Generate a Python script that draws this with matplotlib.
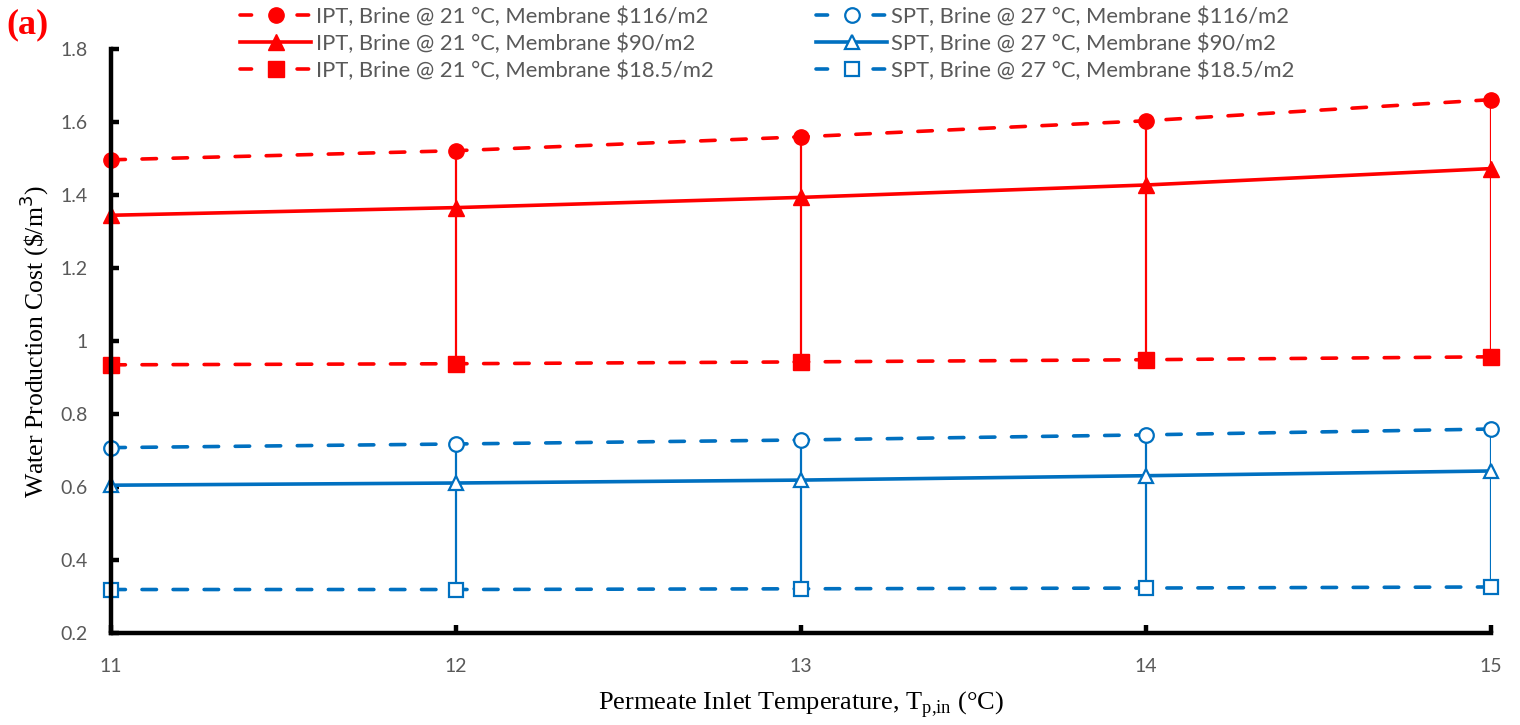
import numpy as np
import matplotlib.pyplot as plt
from matplotlib.lines import Line2D

temps = [11, 12, 13, 14, 15]

ipt_116 = [1.497, 1.522, 1.560, 1.604, 1.662]
ipt_90 = [1.345, 1.366, 1.394, 1.428, 1.473]
ipt_18 = [0.935, 0.938, 0.943, 0.949, 0.957]

spt_116 = [0.708, 0.718, 0.729, 0.743, 0.759]
spt_90 = [0.605, 0.611, 0.619, 0.631, 0.644]
spt_18 = [0.319, 0.319, 0.321, 0.323, 0.326]

labels_ipt = ['IPT, Brine @ 21 °C, Membrane $116/m2',
              'IPT, Brine @ 21 °C, Membrane $90/m2',
              'IPT, Brine @ 21 °C, Membrane $18.5/m2']
labels_spt = ['SPT, Brine @ 27 °C, Membrane $116/m2',
              'SPT, Brine @ 27 °C, Membrane $90/m2',
              'SPT, Brine @ 27 °C, Membrane $18.5/m2']

red = '#ff0000'
blue = '#0070c0'
gray = '#595959'
tick_font = 'Lato'

fig = plt.figure(figsize=(15.2, 7.25), dpi=100)
ax = fig.add_axes([0.073, 0.127, 0.908, 0.805])

# high-low lines
ax.vlines(temps, ipt_18, ipt_116, color=red, lw=1.6, zorder=2)
ax.vlines(temps, spt_18, spt_116, color=blue, lw=1.6, zorder=2)

dash = (0, (4, 4.6))
kw = dict(lw=2.6, ms=11, dash_capstyle='round')
h = []
h.append(ax.plot(temps, ipt_116, color=red, ls=dash, marker='o', **kw)[0])
h.append(ax.plot(temps, ipt_90, color=red, ls='-', marker='^', **kw)[0])
h.append(ax.plot(temps, ipt_18, color=red, ls=dash, marker='s', **kw)[0])
kw = dict(lw=2.6, ms=10.5, mfc='white', mew=1.6, dash_capstyle='round')
h.append(ax.plot(temps, spt_116, color=blue, ls=dash, marker='o', **kw)[0])
h.append(ax.plot(temps, spt_90, color=blue, ls='-', marker='^', **kw)[0])
h.append(ax.plot(temps, spt_18, color=blue, ls=dash, marker='s', **kw)[0])
for l in h:
    l.set_clip_on(False)

# legend handles: dash - marker - dash, like the spreadsheet legend
leg_dash = (0, (3.2, 12.6))
handles = []
for line, lab in zip(h, labels_ipt + labels_spt):
    ls = leg_dash if line.get_linestyle() != '-' else '-'
    handles.append(Line2D([], [], color=line.get_color(), ls=ls, lw=2.6, dash_capstyle='round',
                          marker=line.get_marker(), ms=line.get_markersize(),
                          mfc=line.get_markerfacecolor(), mew=line.get_markeredgewidth(),
                          label=lab))

ax.set_xlim(11, 15)
ax.set_ylim(0.2, 1.8)
ax.set_xticks(temps)
ax.set_yticks([0.2, 0.4, 0.6, 0.8, 1.0, 1.2, 1.4, 1.6, 1.8])
ax.set_yticklabels(['0.2', '0.4', '0.6', '0.8', '1', '1.2', '1.4', '1.6', '1.8'])

for s in ['top', 'right']:
    ax.spines[s].set_visible(False)
for s in ['left', 'bottom']:
    ax.spines[s].set_linewidth(3.2)
    ax.spines[s].set_color('black')
ax.tick_params(direction='in', length=6, width=3.2, color='black',
               labelcolor=gray, labelsize=14)
ax.tick_params(axis='x', pad=18)
ax.tick_params(axis='y', pad=16.5)
for t in ax.get_xticklabels() + ax.get_yticklabels():
    t.set_fontfamily(tick_font)

ax.set_ylabel('Water Production Cost (\\$/m$^3$)', family='Liberation Serif', fontsize=18.5, labelpad=7)
ax.set_xlabel('Permeate Inlet Temperature, T$_{\\mathregular{p{,}in}}$ (°C)', family='Liberation Serif',
              fontsize=19, labelpad=10)

fig.text(0.004, 1 - 8 / 725, '(a)', color=red, family='Liberation Serif', fontweight='bold',
         fontsize=26, va='top')

fig.legend(handles=handles, ncol=2, loc='upper left', bbox_to_anchor=(0.1452, 1.018),
           frameon=False, prop={'family': tick_font, 'size': 15.8}, labelcolor=gray,
           handlelength=3.2, handletextpad=0.22, columnspacing=4.7, labelspacing=0.3)

fig.savefig('out.png', dpi=100)
